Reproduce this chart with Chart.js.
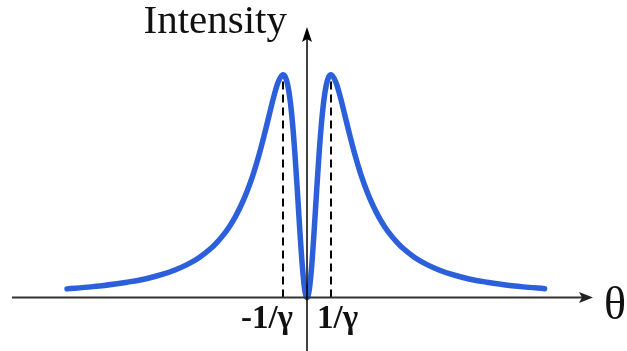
<!DOCTYPE html>
<html>
<head>
<meta charset="utf-8">
<title>Intensity vs angle</title>
<script src="https://cdn.jsdelivr.net/npm/chart.js@4/dist/chart.umd.min.js"></script>
<style>
  html, body { margin: 0; padding: 0; background: #fff; }
  #wrap { width: 627px; height: 351px; position: relative; }
</style>
</head>
<body>
<div id="wrap"><canvas id="canvas1"></canvas></div>
<script>
// angle in units of 1/gamma, intensity normalised to the peak
var thetaValues = [-10, -9, -8, -7.5, -7, -6.5, -6, -5.5, -5, -4.5, -4, -3.75, -3.5, -3.25, -3, -2.75, -2.5, -2.25,
	-2, -1.8, -1.6, -1.4, -1.2, -1, -0.9, -0.8, -0.7, -0.6, -0.5, -0.4, -0.3, -0.2, -0.1, 0,
	0.1, 0.2, 0.3, 0.4, 0.5, 0.6, 0.7, 0.8, 0.9, 1, 1.2, 1.4, 1.6, 1.8, 2,
	2.25, 2.5, 2.75, 3, 3.25, 3.5, 3.75, 4, 4.5, 5, 5.5, 6, 6.5, 7, 7.5, 8, 9, 9.9];
var intensityValues = [0.039, 0.048, 0.061, 0.069, 0.078, 0.090, 0.105, 0.124, 0.148, 0.179, 0.221, 0.248, 0.279, 0.316, 0.36, 0.413, 0.476, 0.551,
	0.64, 0.721, 0.808, 0.895, 0.967, 1.0, 0.989, 0.952, 0.883, 0.779, 0.64, 0.476, 0.303, 0.148, 0.039, 0,
	0.039, 0.148, 0.303, 0.476, 0.64, 0.779, 0.883, 0.952, 0.989, 1.0, 0.967, 0.895, 0.808, 0.721, 0.64,
	0.551, 0.476, 0.413, 0.36, 0.316, 0.279, 0.248, 0.221, 0.179, 0.148, 0.124, 0.105, 0.090, 0.078, 0.069, 0.061, 0.048, 0.040];

// peak markers and their labels
var peakPositions = [-1, 1];
var peakLabels = ["-1/\u03b3", "1/\u03b3"];
var axisTitleY = "Intensity";
var axisTitleX = "\u03b8";

var curvePoints = thetaValues.map(function(t, i){ return {x: t, y: intensityValues[i]}; });

var datasets = [{
	data: curvePoints,
	borderColor: "#2c60da",
	borderWidth: 5.5,
	borderCapStyle: "round",
	borderJoinStyle: "round",
	cubicInterpolationMode: "monotone",
	pointRadius: 0,
	fill: false,
	clip: false,
	order: 2
}];

peakPositions.forEach(function(p){
	datasets.push({
		data: [{x: p, y: 0}, {x: p, y: 0.98}],
		borderColor: "#000",
		borderWidth: 2,
		borderDash: [8, 5],
		pointRadius: 0,
		fill: false,
		clip: false,
		order: 1
	});
});

// axes with arrow heads plus the text labels
var axesPlugin = {
	id: "axesPlugin",
	afterDatasetsDraw: function(chart){
		var ctx = chart.ctx;
		var xs = chart.scales.x, ys = chart.scales.y;
		var x0 = xs.getPixelForValue(0);
		var y0 = ys.getPixelForValue(0);

		ctx.save();
		// horizontal axis
		ctx.strokeStyle = "#333";
		ctx.fillStyle = "#222";
		ctx.lineWidth = 2;
		ctx.beginPath();
		ctx.moveTo(12, y0);
		ctx.lineTo(582, y0);
		ctx.stroke();
		ctx.beginPath();
		ctx.moveTo(593, y0);
		ctx.lineTo(579, y0 - 5.5);
		ctx.lineTo(582, y0);
		ctx.lineTo(579, y0 + 5.5);
		ctx.closePath();
		ctx.fill();

		// vertical axis
		ctx.strokeStyle = "#000";
		ctx.fillStyle = "#000";
		ctx.lineWidth = 1.5;
		ctx.beginPath();
		ctx.moveTo(x0, chart.height);
		ctx.lineTo(x0, 38);
		ctx.stroke();
		ctx.beginPath();
		ctx.moveTo(x0, 27);
		ctx.lineTo(x0 - 5, 42);
		ctx.lineTo(x0, 39);
		ctx.lineTo(x0 + 5, 42);
		ctx.closePath();
		ctx.fill();

		// labels
		ctx.fillStyle = "#111";
		ctx.textBaseline = "alphabetic";
		ctx.font = "41px 'Liberation Serif', serif";
		ctx.textAlign = "right";
		ctx.fillText(axisTitleY, x0 - 20, 33);

		ctx.font = "46px 'Liberation Serif', serif";
		ctx.textAlign = "left";
		ctx.fillText(axisTitleX, 604, 319);

		ctx.font = "bold 33px 'Liberation Serif', serif";
		ctx.textAlign = "right";
		ctx.fillText(peakLabels[0], xs.getPixelForValue(peakPositions[0]) + 10, 328);
		ctx.textAlign = "left";
		ctx.fillText(peakLabels[1], xs.getPixelForValue(peakPositions[1]) - 14, 328);
		ctx.restore();
	}
};

var chart = new Chart(document.getElementById("canvas1").getContext("2d"), {
	type: "line",
	data: { datasets: datasets },
	options: {
		responsive: true,
		maintainAspectRatio: false,
		animation: false,
		layout: { padding: { left: 7, right: 8, top: 19, bottom: 20 } },
		plugins: { legend: { display: false }, tooltip: { enabled: false } },
		scales: {
			x: { type: "linear", min: -12.5, max: 13, display: false },
			y: { type: "linear", min: -0.15, max: 1.25, display: false }
		}
	},
	plugins: [axesPlugin]
});
</script>
</body>
</html>
